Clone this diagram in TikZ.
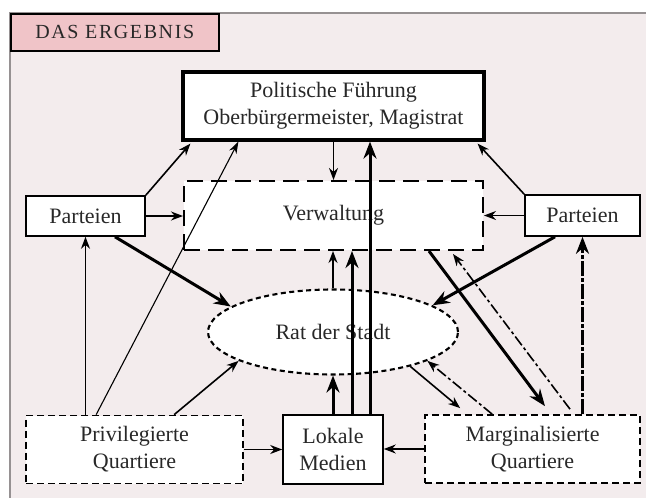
\documentclass[tikz,border=0pt]{standalone}
\usepackage{fontspec}
\setmainfont{Liberation Serif}
\usetikzlibrary{arrows.meta,shapes.geometric,calc}
\definecolor{panelbg}{RGB}{243,236,237}
\definecolor{tabbg}{RGB}{240,196,200}
\definecolor{framegray}{RGB}{150,145,146}
\definecolor{txt}{RGB}{40,40,40}
\tikzset{
  box/.style={draw=black,fill=white,line width=1.6pt,align=center,text=txt,inner sep=0pt,
    font=\fontsize{22}{27}\selectfont},
  polbox/.style={box,line width=3.2pt},
  verwbox/.style={box,line width=2pt,dash pattern=on 16pt off 8pt},
  quartbox/.style={box,line width=1.7pt,dash pattern=on 7pt off 4pt},
  ratshape/.style={box,ellipse,line width=2.1pt,dash pattern=on 5pt off 3.5pt},
  thinarr/.style={line width=1.6pt,-{Stealth[length=12pt,width=9pt]}},
  hairarr/.style={line width=1.1pt,-{Stealth[length=12pt,width=8pt]}},
  thickarr/.style={line width=3pt,-{Stealth[length=17pt,width=13pt]}},
  dotdash/.style={dash pattern=on 11pt off 3pt on 3pt off 3pt},
  thickdotdash/.style={dash pattern=on 15pt off 2pt on 4pt off 2pt},
}
\begin{document}
\begin{tikzpicture}[x=1pt,y=-1pt]
\useasboundingbox (0,0) rectangle (646,498);
\fill[white] (0,0) rectangle (646,498);
% panel
\fill[panelbg] (10,13) rectangle (646,498);
\draw[framegray,line width=1.8pt] (10,498) -- (10,13) -- (646,13);
\node[draw=black,fill=tabbg,line width=1.6pt,minimum width=208pt,minimum height=37pt,inner sep=0pt,
  anchor=north west,text=txt,font=\fontsize{20}{24}\selectfont\addfontfeature{LetterSpace=8}]
  (title) at (10,13) {DAS ERGEBNIS};
% nodes
\node[polbox,minimum width=301pt,minimum height=68pt] (pol) at (333.5,106) {Politische Führung\\Oberbürgermeister, Magistrat};
\node[verwbox,minimum width=299pt,minimum height=69pt] (verw) at (333.5,215.5) {Verwaltung};
\node[box,minimum width=119pt,minimum height=40pt] (parL) at (85.5,216) {Parteien};
\node[box,minimum width=115pt,minimum height=41pt] (parR) at (582.5,215.5) {Parteien};
\node[ratshape,minimum width=250pt,minimum height=85pt] (rat) at (333,332) {Rat der Stadt};
\node[quartbox,minimum width=217pt,minimum height=68pt] (priv) at (134.5,449.5) {Privilegierte\\Quartiere};
\node[box,minimum width=100pt,minimum height=69pt] (lok) at (333,449.5) {Lokale\\Medien};
\node[quartbox,minimum width=215pt,minimum height=68pt] (marg) at (532.5,449) {Marginalisierte\\Quartiere};
% left Parteien
\draw[thinarr] (parL.north east) -- ($(pol.south west)+(9,2)$);
\draw[thinarr] (parL.east) -- (parL.east -| verw.west);
\draw[thickarr] ($(parL.south)+(29.5,0)$) -- (rat.166);
% Privilegierte
\draw[thinarr] (parL.south |- priv.north) -- (parL.south);
\draw[hairarr] ($(priv.north west)+(71,0)$) -- ($(pol.south west)+(57,0)$);
\draw[thinarr] ($(priv.north west)+(149,0)$) -- (rat.197);
\draw[thinarr] (priv.east) -- (priv.east -| lok.west);
\draw[thinarr] (marg.west) -- (marg.west -| lok.east);
% Lokale Medien
\draw[thickarr] (lok.north) -- (rat.south);
\coordinate (lv) at ($(lok.north)+(19,0)$);
\draw[thickarr] (lv) -- (lv |- verw.south);
\coordinate (lp) at ($(lok.north)+(37,0)$);
\draw[thickarr] (lp) -- (lp |- pol.south);
% vertical thin
\draw[thinarr] (rat.north) -- (rat.north |- verw.south);
\draw[thinarr] (pol.south) -- (pol.south |- verw.north);
% right Parteien
\draw[thinarr] (parR.north west) -- ($(pol.south east)+(-8,2)$);
\draw[thinarr] (parR.west) -- (parR.west -| verw.east);
\draw[thickarr] ($(parR.south)+(-27.5,0)$) -- (rat.15);
% Marginalisierte
\draw[thickarr] ($(verw.south east)+(-55,0)$) -- ($(marg.north)+(12.5,-8)$);
\draw[thinarr,dotdash] ($(marg.north)+(37.5,-5)$) -- ($(verw.south east)+(-31,3)$);
\draw[thickarr,thickdotdash] (parR.south |- marg.north) -- (parR.south);
\draw[thinarr] (rat.336) -- ($(marg.north west)+(36,-6)$);
\draw[thinarr,dotdash] ($(marg.north west)+(68,0)$) -- (rat.343);
\end{tikzpicture}
\end{document}
